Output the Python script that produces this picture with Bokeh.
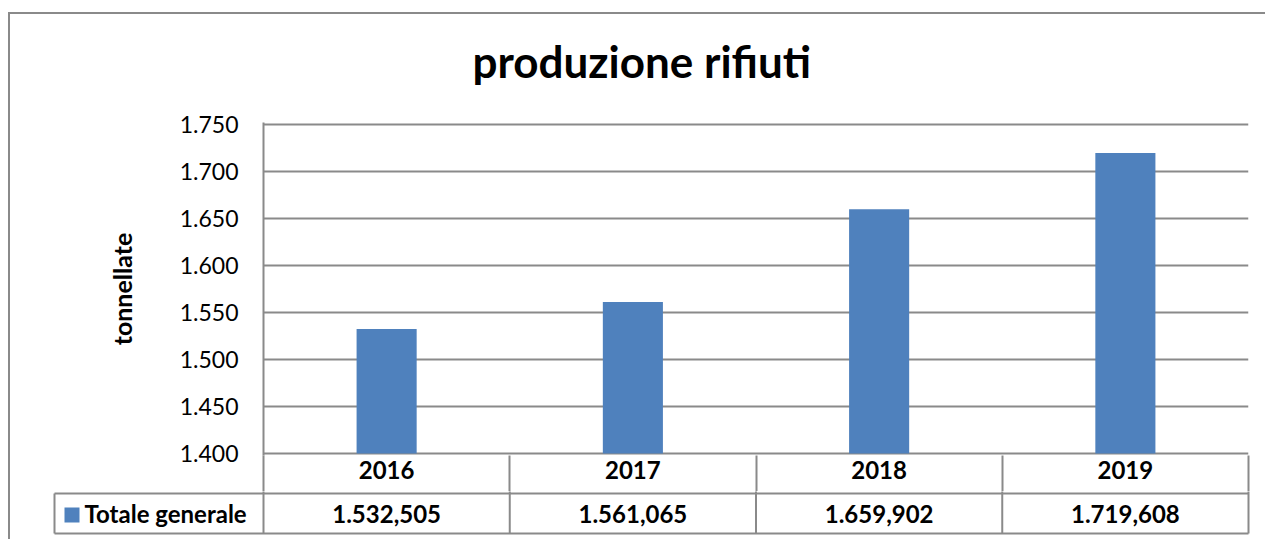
from bokeh.plotting import figure
from bokeh.models import (Range1d, FixedTicker, CustomJSTickFormatter, ColumnDataSource)
from bokeh.layouts import column
from bokeh.embed import file_html
from bokeh.resources import INLINE
from bokeh.core.properties import value

# ---------------- data ----------------
years = ["2016", "2017", "2018", "2019"]
totals = [1532.505, 1561.065, 1659.902, 1719.608]
y_ticks = [1400, 1450, 1500, 1550, 1600, 1650, 1700, 1750]
series_name = "Totale generale"
title_text = "produzione rifiuti"
y_label = "tonnellate"

# ---------------- style ----------------
FONT = "Lato"
GRID = "#8a8a8a"
BAR = "#4F81BD"
TXT = "#000000"
TS = "24px"

y0, y1 = y_ticks[0], y_ticks[-1]
ppu = 329.0 / (y1 - y0)          # pixels per tonne
n = len(years)
centers = [i + 0.5 for i in range(n)]   # category slots 0..n
edges = list(range(n + 1))

# ---------------- chart figure (header row drawn by the x axis) ----------------
p = figure(width=1257, height=491, output_backend="svg", toolbar_location=None,
           x_range=Range1d(0, n), y_range=Range1d(y0 - 2.0 / ppu, y1 + 2.0 / ppu),
           min_border_left=255, min_border_right=17,
           min_border_top=122, min_border_bottom=36)
p.frame_align = False
p.outline_line_color = None
p.background_fill_color = "white"
p.border_fill_alpha = 0

p.title.text = title_text
p.title.text_font = FONT
p.title.text_font_size = "44px"
p.title.text_font_style = "bold"
p.title.text_color = TXT
p.title.align = "left"
p.title.offset = 209
p.title.vertical_align = "top"
p.title.standoff = 68

p.vbar(x=centers, top=totals, bottom=y0, width=0.244, fill_color=BAR, line_color=None)

p.yaxis.ticker = FixedTicker(ticks=y_ticks)
p.ygrid.ticker = FixedTicker(ticks=y_ticks)
p.xgrid.visible = False
p.ygrid.grid_line_color = GRID
p.ygrid.grid_line_width = 2
p.yaxis.formatter = CustomJSTickFormatter(
    code="return Math.round(tick).toString().replace(/\\B(?=(\\d{3})+(?!\\d))/g, '.');")
p.yaxis.axis_line_color = GRID
p.yaxis.axis_line_width = 2
p.yaxis.major_tick_line_color = None
p.yaxis.minor_tick_line_color = None
p.yaxis.major_tick_out = 0
p.yaxis.major_tick_in = 0
p.yaxis.major_label_standoff = 25
p.yaxis.major_label_text_font = FONT
p.yaxis.major_label_text_font_size = "23px"
p.yaxis.major_label_text_color = TXT
p.yaxis.axis_label = y_label
p.yaxis.axis_label_text_font = FONT
p.yaxis.axis_label_text_font_size = "25px"
p.yaxis.axis_label_text_font_style = "bold"
p.yaxis.axis_label_text_color = TXT
p.yaxis.axis_label_standoff = 40

# header row: year labels at category centres, cell borders as minor ticks
xa = p.xaxis[0]
xa.ticker = FixedTicker(ticks=centers, minor_ticks=edges)
xa.formatter = CustomJSTickFormatter(args=dict(names=years),
                                     code="return names[Math.floor(tick)];")
xa.axis_line_color = None
xa.major_tick_line_color = None
xa.major_tick_out = 0
xa.major_tick_in = 0
xa.minor_tick_line_color = GRID
xa.minor_tick_line_width = 2
xa.minor_tick_out = 38
xa.minor_tick_in = 0
xa.major_label_standoff = -33
xa.major_label_text_font = FONT
xa.major_label_text_font_size = TS
xa.major_label_text_font_style = "bold"
xa.major_label_text_color = TXT

# ---------------- value row figure ----------------
unit = 246.25
leg_left = -209 / unit
t = figure(width=1257, height=48, output_backend="svg", toolbar_location=None,
           x_range=Range1d(-211 / unit, n + 2 / unit), y_range=Range1d(-3 / 40, 1 + 2 / 40),
           x_axis_location=None, y_axis_location=None,
           min_border_left=44, min_border_right=15, min_border_top=0, min_border_bottom=3)
t.frame_align = False
t.outline_line_color = None
t.grid.visible = False
t.background_fill_color = "white"
t.border_fill_alpha = 0

t.segment(x0=edges, y0=[0] * len(edges), x1=edges, y1=[2] * len(edges),
          line_color=GRID, line_width=2)
t.segment(x0=[leg_left, leg_left, leg_left], y0=[0, 1, 0], x1=[leg_left, n, n], y1=[1, 1, 0],
          line_color=GRID, line_width=2)

labels = ["{:,.3f}".format(v).replace(",", "X").replace(".", ",").replace("X", ".") for v in totals]
src = ColumnDataSource(dict(x=centers, lab=labels))
t.text(x="x", y=0.5, text="lab", source=src, text_font=value(FONT), text_font_style="bold",
       text_font_size=TS, text_align="center", text_baseline="middle", text_color=TXT)

t.scatter(x=[(71.5 - 263) / unit], y=[0.46], marker="square", size=15,
          fill_color=BAR, line_color=None)
t.text(x=[(84 - 263) / unit], y=[0.5], text=[series_name], text_font=value(FONT),
       text_font_style="bold", text_font_size=TS, text_align="left",
       text_baseline="middle", text_color=TXT)

frame_lines = ("linear-gradient(#8a8a8a, #8a8a8a) 0 12px / 100% 2px no-repeat, "
               "linear-gradient(#8a8a8a, #8a8a8a) 0 12px / 2px 100% no-repeat, white")
layout = column(p, t, spacing=0, styles={"margin-left": "8px", "background": frame_lines})

open("out.html", "w").write(file_html(layout, INLINE))
